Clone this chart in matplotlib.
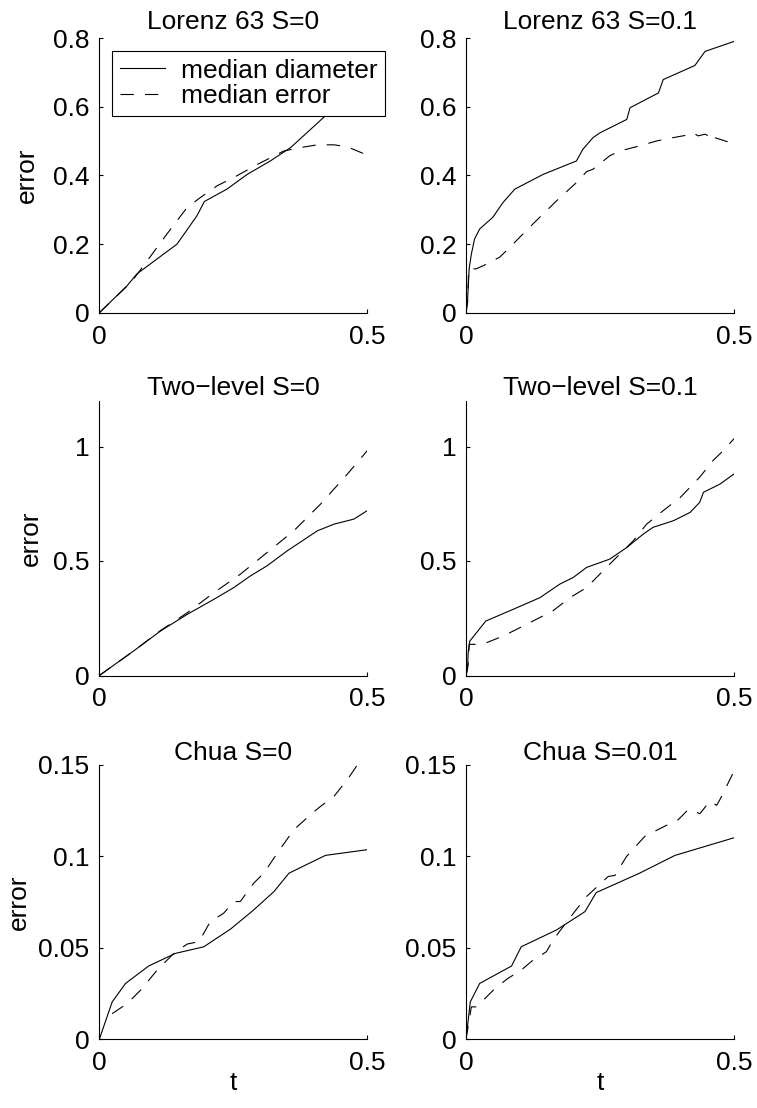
import matplotlib.pyplot as plt

plt.rcParams['font.family'] = ['Liberation Sans', 'DejaVu Sans']
plt.rcParams['font.size'] = 19

# Lorenz 63, S=0
l63_s0_t_diam = [0, 0.052, 0.070, 0.145, 0.182, 0.196, 0.238, 0.276, 0.319, 0.357, 0.425, 0.5]
l63_s0_diam = [0, 0.079, 0.113, 0.200, 0.282, 0.324, 0.360, 0.403, 0.442, 0.481, 0.578, 0.67]
l63_s0_t_err = [0, 0.03, 0.06, 0.092, 0.126, 0.164, 0.189, 0.22, 0.251, 0.295, 0.344, 0.375,
                0.407, 0.438, 0.463, 0.5]
l63_s0_err = [0, 0.045, 0.09, 0.157, 0.229, 0.307, 0.336, 0.37, 0.394, 0.432, 0.471, 0.481,
              0.489, 0.489, 0.483, 0.459]

# Lorenz 63, S=0.1
l63_s1_t_diam = [0, 0.003, 0.006, 0.010, 0.016, 0.0255, 0.05, 0.069, 0.091, 0.144, 0.206, 0.218,
                 0.237, 0.25, 0.3, 0.306, 0.359, 0.368, 0.427, 0.446, 0.5]
l63_s1_diam = [0, 0.04, 0.13, 0.171, 0.215, 0.244, 0.278, 0.321, 0.36, 0.403, 0.442, 0.476,
               0.51, 0.524, 0.563, 0.597, 0.640, 0.679, 0.72, 0.761, 0.79]
l63_s1_t_err = [0, 0.003, 0.005, 0.019, 0.032, 0.063, 0.082, 0.106, 0.131, 0.169, 0.206, 0.225,
                0.237, 0.268, 0.287, 0.324, 0.355, 0.380, 0.418, 0.424, 0.433, 0.446, 0.452,
                0.458, 0.464, 0.5]
l63_s1_err = [0, 0.03, 0.128, 0.128, 0.137, 0.162, 0.191, 0.229, 0.268, 0.326, 0.379, 0.411,
              0.418, 0.457, 0.471, 0.486, 0.5, 0.508, 0.519, 0.524, 0.515, 0.520, 0.515,
              0.524, 0.510, 0.492]

# Two-level, S=0
tl_s0_t_diam = [0, 0.064, 0.114, 0.164, 0.214, 0.251, 0.282, 0.313, 0.351, 0.407, 0.438, 0.475, 0.5]
tl_s0_diam = [0, 0.107, 0.194, 0.267, 0.333, 0.384, 0.435, 0.479, 0.545, 0.632, 0.661, 0.683, 0.72]
tl_s0_t_err = [0, 0.064, 0.114, 0.164, 0.214, 0.263, 0.313, 0.363, 0.413, 0.463, 0.5]
tl_s0_err = [0, 0.107, 0.196, 0.274, 0.362, 0.442, 0.537, 0.632, 0.749, 0.88, 0.982]

# Two-level, S=0.1
tl_s1_t_diam = [0, 0.003, 0.004, 0.007, 0.037, 0.088, 0.138, 0.175, 0.2, 0.225, 0.268, 0.3,
                0.331, 0.349, 0.387, 0.418, 0.436, 0.443, 0.474, 0.5]
tl_s1_diam = [0, 0.03, 0.1, 0.15, 0.238, 0.289, 0.34, 0.399, 0.428, 0.472, 0.508, 0.559,
              0.618, 0.647, 0.676, 0.712, 0.756, 0.8, 0.836, 0.88]
tl_s1_t_err = [0, 0.004, 0.006, 0.019, 0.038, 0.069, 0.094, 0.125, 0.162, 0.194, 0.225, 0.268,
               0.287, 0.312, 0.337, 0.368, 0.4, 0.436, 0.461, 0.48, 0.5]
tl_s1_err = [0, 0.05, 0.136, 0.136, 0.143, 0.172, 0.201, 0.238, 0.282, 0.34, 0.384, 0.486,
             0.53, 0.588, 0.661, 0.72, 0.778, 0.866, 0.939, 0.982, 1.034]

# Chua, S=0
ch_s0_t_diam = [0, 0.024, 0.049, 0.092, 0.142, 0.195, 0.245, 0.288, 0.326, 0.354, 0.422, 0.5]
ch_s0_diam = [0, 0.0204, 0.0305, 0.040, 0.0469, 0.0505, 0.0602, 0.0706, 0.0807, 0.0907, 0.1004, 0.1035]
ch_s0_t_err = [0.024, 0.052, 0.077, 0.108, 0.139, 0.164, 0.186, 0.207, 0.232, 0.251, 0.263,
               0.288, 0.307, 0.332, 0.363, 0.394, 0.413, 0.438, 0.463, 0.484, 0.5]
ch_s0_err = [0.014, 0.0195, 0.0268, 0.0378, 0.0469, 0.052, 0.0533, 0.0642, 0.0688, 0.0752, 0.0752,
             0.0852, 0.0907, 0.1016, 0.1144, 0.1226, 0.1272, 0.1327, 0.1418, 0.1509, 0.158]

# Chua, S=0.01
ch_s1_t_diam = [0, 0.008, 0.0255, 0.085, 0.103, 0.169, 0.222, 0.243, 0.324, 0.39, 0.5]
ch_s1_diam = [0, 0.0204, 0.0305, 0.040, 0.0505, 0.0597, 0.0697, 0.0801, 0.0907, 0.1004, 0.110]
ch_s1_t_err = [0, 0.01, 0.019, 0.032, 0.054, 0.078, 0.103, 0.125, 0.15, 0.1625, 0.1905, 0.2248,
               0.2653, 0.2777, 0.2995, 0.3337, 0.368, 0.396, 0.4147, 0.4365, 0.455, 0.4676,
               0.474, 0.5]
ch_s1_err = [0, 0.0177, 0.0177, 0.0213, 0.0277, 0.0332, 0.0378, 0.0432, 0.0478, 0.0542, 0.0651,
             0.0779, 0.0889, 0.0894, 0.0998, 0.1108, 0.1159, 0.1199, 0.1254, 0.1232, 0.130,
             0.1277, 0.131, 0.1463]

titles = ['Lorenz 63 S=0', 'Lorenz 63 S=0.1',
          'Two\u2212level S=0', 'Two\u2212level S=0.1',
          'Chua S=0', 'Chua S=0.01']
x_ticks = [0, 0.5]
x_ticklabels = ['0', '0.5']
row_yticks = [[0, 0.2, 0.4, 0.6, 0.8], [0, 0.5, 1], [0, 0.05, 0.1, 0.15]]
row_yticklabels = [['0', '0.2', '0.4', '0.6', '0.8'], ['0', '0.5', '1'], ['0', '0.05', '0.1', '0.15']]
row_ylim = [0.8, 1.2, 0.15]

panels = [
    (l63_s0_t_diam, l63_s0_diam, l63_s0_t_err, l63_s0_err),
    (l63_s1_t_diam, l63_s1_diam, l63_s1_t_err, l63_s1_err),
    (tl_s0_t_diam, tl_s0_diam, tl_s0_t_err, tl_s0_err),
    (tl_s1_t_diam, tl_s1_diam, tl_s1_t_err, tl_s1_err),
    (ch_s0_t_diam, ch_s0_diam, ch_s0_t_err, ch_s0_err),
    (ch_s1_t_diam, ch_s1_diam, ch_s1_t_err, ch_s1_err),
]

W, H = 757, 1108
fig = plt.figure(figsize=(W / 100, H / 100), dpi=100)

# axes placement in pixels (left x, top y), size 268 x 274.8
col_left = [99.3, 466.0]
row_top = [38.0, 400.7, 764.5]
ax_w, ax_h = 268.0, 274.8
title_pad = [6.4, 4.1, 1.9]
ylabel_x = [-0.224, -0.209, -0.254]

dash = (0, (12, 10))
axes = []
for i, (td, d, te, e) in enumerate(panels):
    r, c = divmod(i, 2)
    ax = fig.add_axes([col_left[c] / W, (H - row_top[r] - ax_h) / H, ax_w / W, ax_h / H])
    axes.append(ax)
    ax.plot(td, d, color='black', lw=0.8, label='median diameter')
    ax.plot(te, e, color='black', lw=0.8, linestyle=dash, label='median error')
    ax.set_xlim(0, 0.5)
    ax.set_ylim(0, row_ylim[r])
    ax.set_xticks(x_ticks, x_ticklabels)
    ax.set_yticks(row_yticks[r], row_yticklabels[r])
    ax.spines['top'].set_visible(False)
    ax.spines['right'].set_visible(False)
    for s in ('left', 'bottom'):
        ax.spines[s].set_linewidth(0.8)
    ax.tick_params(direction='in', length=3, width=0.8)
    ax.tick_params(axis='x', pad=8.5)
    ax.tick_params(axis='y', pad=7)
    ax.set_title(titles[i], fontsize=19, pad=title_pad[r])
    if c == 0:
        ax.set_ylabel('error')
        ax.yaxis.set_label_coords(ylabel_x[r], 0.5)
    if r == 2:
        ax.set_xlabel('t', labelpad=-3)

leg = axes[0].legend(loc='upper left', bbox_to_anchor=(0.047, 0.954), borderaxespad=0,
                     fancybox=False, framealpha=1, edgecolor='black',
                     handlelength=1.7, handletextpad=0.6, borderpad=0.3, labelspacing=0.05,
                     fontsize=19)
leg.get_frame().set_linewidth(0.8)

fig.savefig('out.png', dpi=100)
